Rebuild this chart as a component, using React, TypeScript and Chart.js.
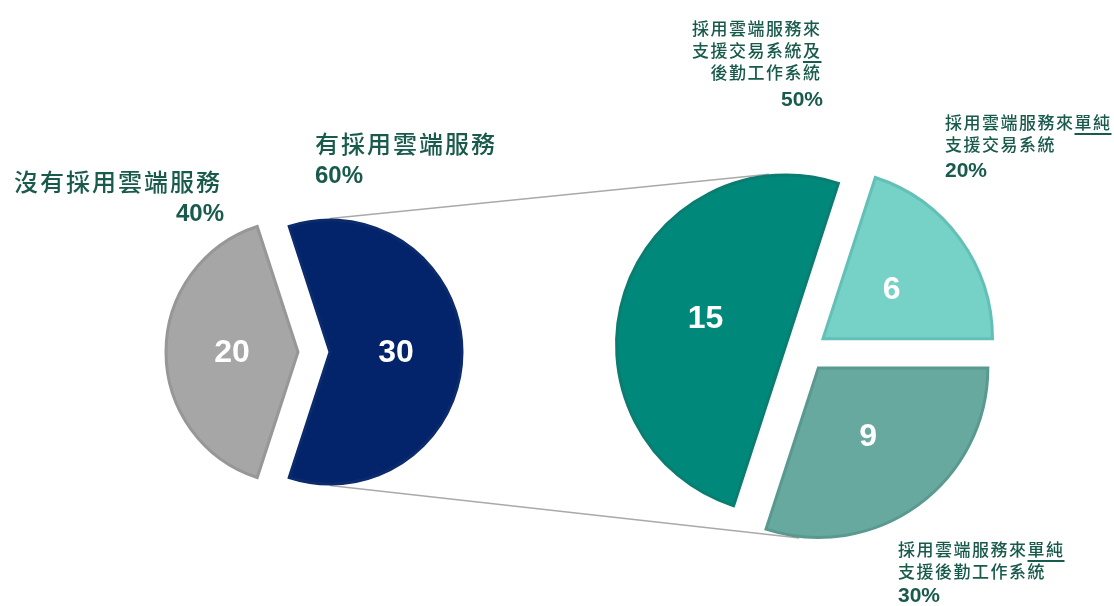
import React, { useEffect, useRef } from 'react';
import { Chart, registerables } from 'chart.js';

Chart.register(...registerables);

// ---------------- data ----------------
const groupLabels = ['沒有採用雲端服務', '有採用雲端服務'];
const groupValues = [20, 30];

// [..] marks underlined text
const detailLabels = [
  ['採用雲端服務來', '支援交易系統[及]', '後勤工作系統'],
  ['採用雲端服務來[單純]', '支援交易系統'],
  ['採用雲端服務來[單純]', '支援後勤工作系統'],
];
const detailValues = [15, 6, 9];

// ---------------- styles ----------------
const W = 1114;
const H = 606;
const groupColors = ['#a6a6a6', '#03246a'];
const groupBorders = ['#979797', '#0b2b6d'];
const detailColors = ['#00897b', '#76d1c7', '#67a99f'];
const detailBorders = ['#0a7d70', '#63c0b6', '#5a998f'];
const TEXT = '#185a4c';
const LINE = '#a9a9a9';
const CJK = '"Noto Sans CJK TC", "Noto Sans CJK SC", sans-serif';
const LATIN = '"Liberation Sans", Arial, Helvetica, sans-serif';
const BORDER = 3;

const LEFT = { cx: 314, cy: 352, size: 330, radius: 132, explode: 16, rotation: 198 };
const RIGHT = { cx: 806, cy: 351, size: 440, radius: 169.5, explode: 21, rotation: 198 };

const pct = (v: number, arr: number[]) =>
  Math.round((v / arr.reduce((a, b) => a + b, 0)) * 100) + '%';

const explodePlugin = (dist: number) => ({
  id: 'explodeSlices',
  afterDatasetUpdate(_chart: any, args: any) {
    args.meta.data.forEach((arc: any) => {
      const mid = (arc.startAngle + arc.endAngle) / 2;
      arc.x += Math.cos(mid) * dist;
      arc.y += Math.sin(mid) * dist;
    });
  },
});

const valuePlugin = {
  id: 'sliceValues',
  afterDatasetsDraw(chart: any) {
    const ctx = chart.ctx;
    const meta = chart.getDatasetMeta(0);
    const data = chart.data.datasets[0].data as number[];
    ctx.save();
    ctx.fillStyle = '#ffffff';
    ctx.font = `bold 32px ${LATIN}`;
    ctx.textAlign = 'center';
    ctx.textBaseline = 'middle';
    meta.data.forEach((arc: any, i: number) => {
      const mid = (arc.startAngle + arc.endAngle) / 2;
      const r = arc.outerRadius / 2;
      ctx.fillText(String(data[i]), arc.x + Math.cos(mid) * r, arc.y + Math.sin(mid) * r + 1);
    });
    ctx.restore();
  },
};

function makePie(
  canvas: HTMLCanvasElement,
  labels: string[],
  values: number[],
  colors: string[],
  borders: string[],
  cfg: typeof LEFT
) {
  return new Chart(canvas, {
    type: 'pie',
    data: {
      labels,
      datasets: [
        {
          data: values,
          backgroundColor: colors,
          borderColor: borders,
          borderWidth: BORDER,
          borderJoinStyle: 'miter',
          radius: cfg.radius,
          rotation: cfg.rotation,
        } as any,
      ],
    },
    options: {
      responsive: false,
      animation: false,
      events: [],
      layout: { padding: 0 },
      plugins: { legend: { display: false }, tooltip: { enabled: false } },
    } as any,
    plugins: [explodePlugin(cfg.explode), valuePlugin],
  });
}

function Rich({ text }: { text: string }) {
  const parts = text.split(/(\[[^\]]+\])/).filter(Boolean);
  return (
    <>
      {parts.map((p, i) =>
        p.startsWith('[') ? (
          <span
            key={i}
            style={{
              textDecoration: 'underline',
              textUnderlineOffset: '4px',
              textDecorationThickness: '1.5px',
            }}
          >
            {p.slice(1, -1)}
          </span>
        ) : (
          <span key={i}>{p}</span>
        )
      )}
    </>
  );
}

type Pos = { x: number; top: number; align: 'left' | 'right'; gap: number };

const groupPos: Pos[] = [
  { x: 220, top: 165, align: 'right', gap: 0 },
  { x: 315, top: 127, align: 'left', gap: 0 },
];
const detailPos: Pos[] = [
  { x: 820, top: 16.5, align: 'right', gap: 5 },
  { x: 945, top: 111, align: 'left', gap: 4 },
  { x: 898, top: 538, align: 'left', gap: 2 },
];

function LabelBlock({
  pos,
  lines,
  percent,
  cjkSize,
  ls,
  lh,
  pctSize,
  pctLh,
}: {
  pos: Pos;
  lines: string[];
  percent: string;
  cjkSize: number;
  ls: number;
  lh: number;
  pctSize: number;
  pctLh: number;
}) {
  const style: React.CSSProperties = {
    position: 'absolute',
    top: pos.top,
    color: TEXT,
    whiteSpace: 'nowrap',
    textAlign: pos.align,
  };
  if (pos.align === 'right') style.right = W - pos.x - ls;
  else style.left = pos.x;
  return (
    <div style={style}>
      {lines.map((l, i) => (
        <div
          key={i}
          style={{
            fontFamily: CJK,
            fontSize: cjkSize,
            fontWeight: 500,
            letterSpacing: ls,
            lineHeight: `${lh}px`,
            marginRight: pos.align === 'right' ? 0 : undefined,
          }}
        >
          <Rich text={l} />
        </div>
      ))}
      <div
        style={{
          fontFamily: LATIN,
          fontSize: pctSize,
          fontWeight: 700,
          lineHeight: `${pctLh}px`,
          marginTop: pos.gap,
          marginRight: pos.align === 'right' ? -ls : 0,
        }}
      >
        {percent}
      </div>
    </div>
  );
}

export default function App() {
  const bgRef = useRef<HTMLCanvasElement>(null);
  const leftRef = useRef<HTMLCanvasElement>(null);
  const rightRef = useRef<HTMLCanvasElement>(null);

  useEffect(() => {
    const left = makePie(leftRef.current!, groupLabels, groupValues, groupColors, groupBorders, LEFT);
    const right = makePie(
      rightRef.current!,
      detailLabels.map((l) => l.join('')),
      detailValues,
      detailColors,
      detailBorders,
      RIGHT
    );

    // connector lines (behind the pies)
    const bg = bgRef.current!;
    const dpr = window.devicePixelRatio || 1;
    bg.width = W * dpr;
    bg.height = H * dpr;
    const ctx = bg.getContext('2d')!;
    ctx.setTransform(dpr, 0, 0, dpr, 0, 0);
    ctx.clearRect(0, 0, W, H);

    const lox = LEFT.cx - LEFT.size / 2;
    const loy = LEFT.cy - LEFT.size / 2;
    const rox = RIGHT.cx - RIGHT.size / 2;
    const roy = RIGHT.cy - RIGHT.size / 2;
    const half = BORDER / 2;

    const navy: any = left.getDatasetMeta(0).data[1];
    const nx = lox + navy.x;
    const ny = loy + navy.y;
    const nr = navy.outerRadius + half;
    const pTop = [nx, ny - nr];
    const pBot = [nx, ny + nr];

    const tangent = (p: number[], arc: any, sign: number) => {
      const cx = rox + arc.x;
      const cy = roy + arc.y;
      const r = arc.outerRadius + half;
      const d = Math.hypot(p[0] - cx, p[1] - cy);
      const th = Math.atan2(p[1] - cy, p[0] - cx);
      const a = th + sign * Math.acos(Math.min(1, r / d));
      return [cx + r * Math.cos(a), cy + r * Math.sin(a)];
    };
    const rMeta = right.getDatasetMeta(0).data as any[];
    const tTop = tangent(pTop, rMeta[0], 1);
    const tBot = tangent(pBot, rMeta[2], -1);

    ctx.strokeStyle = LINE;
    ctx.lineWidth = 1.5;
    ctx.beginPath();
    ctx.moveTo(pTop[0], pTop[1]);
    ctx.lineTo(tTop[0], tTop[1]);
    ctx.moveTo(pBot[0], pBot[1]);
    ctx.lineTo(tBot[0], tBot[1]);
    ctx.stroke();

    return () => {
      left.destroy();
      right.destroy();
    };
  }, []);

  return (
    <div
      style={{
        position: 'absolute',
        left: 0,
        top: 0,
        width: W,
        height: H,
        background: '#ffffff',
        overflow: 'hidden',
      }}
    >
      <canvas
        ref={bgRef}
        style={{ position: 'absolute', left: 0, top: 0, width: W, height: H }}
      />
      <canvas
        ref={leftRef}
        width={LEFT.size}
        height={LEFT.size}
        style={{
          position: 'absolute',
          left: LEFT.cx - LEFT.size / 2,
          top: LEFT.cy - LEFT.size / 2,
          width: LEFT.size,
          height: LEFT.size,
        }}
      />
      <canvas
        ref={rightRef}
        width={RIGHT.size}
        height={RIGHT.size}
        style={{
          position: 'absolute',
          left: RIGHT.cx - RIGHT.size / 2,
          top: RIGHT.cy - RIGHT.size / 2,
          width: RIGHT.size,
          height: RIGHT.size,
        }}
      />
      {groupLabels.map((l, i) => (
        <LabelBlock
          key={'g' + i}
          pos={groupPos[i]}
          lines={[l]}
          percent={pct(groupValues[i], groupValues)}
          cjkSize={24}
          ls={2}
          lh={32}
          pctSize={24}
          pctLh={32}
        />
      ))}
      {detailLabels.map((l, i) => (
        <LabelBlock
          key={'d' + i}
          pos={detailPos[i]}
          lines={l}
          percent={pct(detailValues[i], detailValues)}
          cjkSize={17}
          ls={1.5}
          lh={22}
          pctSize={21}
          pctLh={22}
        />
      ))}
    </div>
  );
}
